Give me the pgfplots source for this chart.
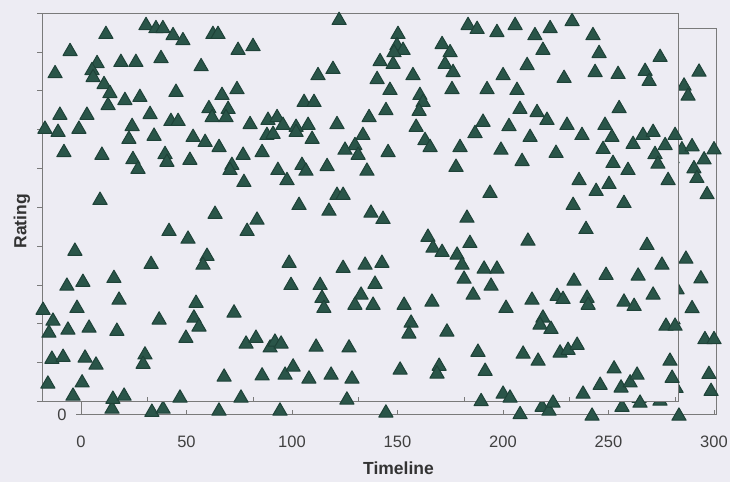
\documentclass[border=0pt]{standalone}
\usepackage{pgfplots}
\pgfplotsset{compat=1.18}
\usepackage{pgfplotstable}
\usepackage{fontspec}
\setmainfont{Liberation Sans}
\definecolor{bgc}{HTML}{EDECF3}
\definecolor{mk}{HTML}{2A5549}
\definecolor{mkd}{HTML}{1E4238}
\definecolor{axg}{HTML}{7A7A7A}
\definecolor{tickc}{HTML}{404040}
\definecolor{labc}{HTML}{333333}
\pgfplotstableread{
x y
49.3 9.68
54.0 9.60
57.3 9.60
62.1 9.42
66.8 9.29
30.3 9.45
81.0 9.45
83.4 9.45
92.9 9.04
13.3 9.01
6.2 8.44
26.1 8.70
23.7 8.52
24.2 8.34
37.4 8.73
44.5 8.73
56.4 8.83
75.4 8.62
29.4 8.16
32.2 7.93
31.3 7.62
39.3 7.75
46.4 7.83
63.5 7.96
85.3 7.88
92.4 8.03
8.5 7.37
21.3 7.37
51.2 7.39
79.1 7.54
80.6 7.31
88.2 7.52
87.2 7.31
61.1 7.21
64.5 7.21
1.4 7.01
7.6 6.93
17.5 7.01
42.7 7.08
41.2 6.75
53.1 6.83
71.6 6.80
77.3 6.67
83.9 6.54
98.6 7.13
10.4 6.41
28.4 6.34
58.3 6.36
59.2 6.16
70.1 6.21
43.1 6.23
45.5 5.98
95.3 6.34
90.0 6.08
89.1 5.95
95.7 5.64
27.5 5.18
82.0 4.82
60.2 4.38
69.2 4.18
97.2 4.38
15.6 3.87
78.2 3.74
51.7 3.53
76.3 3.51
11.8 2.97
19.4 3.07
34.1 3.17
36.5 2.61
0.5 2.35
16.6 2.40
5.2 2.07
3.3 1.76
12.3 1.84
22.3 1.89
35.5 1.81
55.5 2.10
73.0 2.53
72.0 2.15
74.4 1.92
68.2 1.63
91.0 2.28
96.7 1.48
4.7 1.09
10.0 1.14
20.4 1.12
25.6 0.94
48.8 1.20
47.9 0.96
2.8 0.45
19.0 0.48
86.3 0.63
14.7 0.14
33.6 0.06
38.9 0.14
65.4 0.09
94.3 0.09
140.8 9.81
201.9 9.68
206.2 9.58
100.0 9.14
168.7 9.45
168.2 9.16
171.1 9.04
166.8 8.98
160.2 8.75
166.4 8.68
189.6 9.19
193.4 8.98
191.0 8.68
194.8 8.47
130.8 8.39
137.9 8.55
158.8 8.29
175.8 8.39
164.9 8.01
194.3 8.03
210.9 8.03
179.1 7.88
180.6 7.70
124.2 7.70
128.9 7.70
163.0 7.49
178.7 7.47
155.0 7.31
107.1 7.24
111.4 7.31
114.2 7.11
120.4 7.06
126.1 7.11
139.8 7.13
106.6 6.85
109.5 6.88
120.4 6.93
128.0 6.75
152.1 6.85
148.3 6.59
143.6 6.47
149.8 6.34
177.3 7.06
181.5 6.72
183.9 6.54
164.0 6.41
209.0 7.19
205.2 6.90
198.1 6.54
196.2 6.03
104.3 6.41
111.8 5.95
116.1 5.69
123.2 6.08
125.1 5.93
135.1 6.05
154.0 5.93
212.3 5.36
139.8 5.31
142.7 5.31
121.8 5.05
136.0 4.90
155.9 4.85
161.6 4.69
201.4 4.72
101.9 4.67
182.9 4.23
185.3 3.95
202.8 4.07
189.6 3.84
117.1 3.56
142.7 3.43
153.1 3.51
161.1 3.56
196.7 3.77
199.1 3.51
200.0 3.15
209.5 3.41
118.0 2.99
131.8 2.99
132.7 2.66
133.6 2.40
151.2 2.74
148.3 2.48
157.8 3.02
156.9 2.48
171.6 2.48
184.8 2.56
204.3 2.74
212.8 2.97
174.9 2.02
173.9 1.74
191.9 1.79
101.4 1.63
108.1 1.38
110.4 1.53
113.3 1.48
129.9 1.40
145.5 1.38
206.6 1.27
104.3 0.66
115.2 0.68
119.0 0.89
126.5 0.58
137.0 0.68
146.9 0.58
169.7 0.81
188.2 0.91
187.2 0.71
210.0 0.78
144.5 0.04
208.1 0.00
215.6 9.50
224.2 9.68
233.6 9.42
240.8 9.60
251.2 9.78
261.1 9.42
237.4 9.04
264.0 8.96
292.9 8.86
229.9 8.65
218.5 8.39
247.4 8.32
262.1 8.47
273.0 8.42
285.8 8.50
287.7 8.24
225.1 8.01
226.5 7.52
234.6 7.44
239.3 7.24
273.5 7.54
221.3 7.08
248.8 7.11
255.9 6.85
266.8 7.11
270.1 6.80
231.3 6.80
284.8 6.85
289.6 6.93
300.0 6.85
280.1 6.62
295.3 6.59
290.5 6.36
291.9 6.11
217.5 6.47
243.6 6.39
265.9 6.49
227.5 6.18
270.6 6.13
277.7 5.95
254.5 5.69
268.7 5.59
262.6 5.41
296.7 5.69
251.7 5.05
275.8 5.10
257.8 4.43
230.3 4.13
286.7 4.02
215.6 3.41
293.8 3.51
267.3 3.25
282.5 3.23
252.1 3.10
232.2 2.61
244.1 2.71
246.9 2.63
258.3 2.66
258.8 2.48
275.8 2.56
280.6 2.45
289.6 2.74
219.9 2.40
237.4 2.15
236.0 1.97
241.2 1.86
295.7 1.94
300.0 1.94
228.0 1.22
235.1 1.04
245.5 1.25
249.3 1.32
253.6 1.45
271.1 0.84
264.5 0.42
274.4 0.35
278.7 0.48
282.0 0.68
297.6 1.04
298.6 0.60
218.5 0.19
221.8 0.09
242.2 -0.04
256.4 0.19
283.4 -0.04
}\ratings

\pgfplotsset{
  common/.style={
    scale only axis, clip=false,
    xmin=0, ymin=0, ymax=10,
    axis line style={draw=axg, line width=0.7pt},
    tick style={draw=axg, line width=0.7pt},
    major tick length=5pt, tick align=inside,
    every major y tick/.append style={xshift=-5pt},
    xtick={0,50,...,300}, xtick pos=bottom, ytick pos=left,
    /pgf/number format/assume math mode=true,
    ticklabel style={font=\fontsize{16.5}{18}\selectfont, text=tickc},
    label style={font=\bfseries\fontsize{17.5}{20}\selectfont, text=labc},
  },
  tri/.style={only marks, mark=triangle*, mark size=8.2pt,
    mark options={fill=mk, draw=mkd, line width=1pt, line join=round}},
}

\begin{document}
\begin{tikzpicture}
\fill[bgc] (0,0) rectangle (730pt,-482pt);
% offset (second) frame
\begin{axis}[common,
  at={(81pt,-414.5pt)}, anchor=south west,
  width=635pt, height=386.5pt, xmax=300.95,
  ytick={0},
  xticklabel style={anchor=center, yshift=-27pt},
  yticklabel style={anchor=center, xshift=-19pt},
  xlabel={Timeline}, ylabel={Rating},
  xlabel style={at={(axis description cs:0.5,-0.1384)}, anchor=center},
  ylabel style={at={(axis description cs:-0.0929,0.5)}, anchor=center},
]
\addplot[tri] table {\ratings};
\end{axis}
% main frame
\begin{axis}[common,
  at={(42pt,-401.5pt)}, anchor=south west,
  width=636pt, height=388.5pt, xmax=301.4,
  ytick={0,1,...,10},
  xticklabel={\phantom{0}}, yticklabel={\phantom{0}},
  axis background/.style={fill=bgc},
]
\addplot[tri] table {\ratings};
\end{axis}
\pgfresetboundingbox
\path (0,0) rectangle (730pt,-482pt);
\end{tikzpicture}
\end{document}
